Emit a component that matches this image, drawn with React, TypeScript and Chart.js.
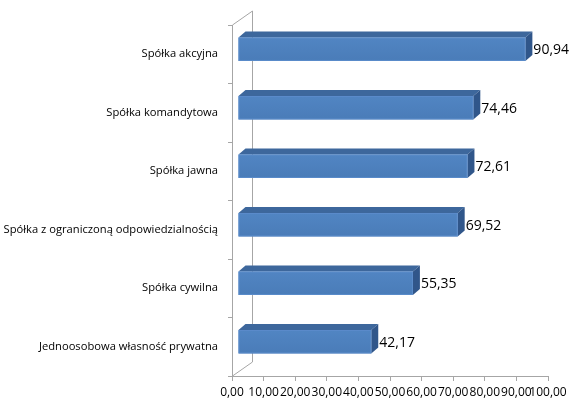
import React, { useEffect, useRef } from "react";
import { Chart, registerables } from "chart.js";

Chart.register(...registerables);

const categories = [
  "Spółka akcyjna",
  "Spółka komandytowa",
  "Spółka jawna",
  "Spółka z ograniczoną odpowiedzialnością",
  "Spółka cywilna",
  "Jednoosobowa własność prywatna",
];
const values = [90.94, 74.46, 72.61, 69.52, 55.35, 42.17];
const xTicks = [0, 10, 20, 30, 40, 50, 60, 70, 80, 90, 100];

const fmt = (v: number) => v.toFixed(2).replace(".", ",");

// depth of the 3D box and offsets of the bars inside it
const WALL_DX = 20;
const WALL_DY = -14;
const BAR_DX = 6;
const BAR_DY = -5;
const TOP_DX = 7;
const TOP_DY = -6;

const box3d = {
  id: "box3d",
  beforeDatasetsDraw(chart: any) {
    const { ctx, chartArea } = chart;
    const { left, top, bottom } = chartArea;
    ctx.save();
    ctx.strokeStyle = "#a6a6a6";
    ctx.lineWidth = 1;
    ctx.beginPath();
    ctx.moveTo(left + 0.5, top);
    ctx.lineTo(left + WALL_DX + 0.5, top + WALL_DY);
    ctx.lineTo(left + WALL_DX + 0.5, bottom + WALL_DY);
    ctx.lineTo(left + 0.5, bottom);
    ctx.stroke();
    ctx.restore();
  },
  afterDatasetsDraw(chart: any) {
    const { ctx } = chart;
    const meta = chart.getDatasetMeta(0);
    ctx.save();
    meta.data.forEach((bar: any, i: number) => {
      const x0 = bar.base + BAR_DX;
      const x1 = bar.x + BAR_DX;
      const yTop = bar.y - bar.height / 2 + BAR_DY;
      const yBot = bar.y + bar.height / 2 + BAR_DY;

      // top face
      ctx.fillStyle = "#3d679c";
      ctx.beginPath();
      ctx.moveTo(x0, yTop);
      ctx.lineTo(x0 + TOP_DX, yTop + TOP_DY);
      ctx.lineTo(x1 + TOP_DX, yTop + TOP_DY);
      ctx.lineTo(x1, yTop);
      ctx.closePath();
      ctx.fill();

      // side face
      ctx.fillStyle = "#30568a";
      ctx.beginPath();
      ctx.moveTo(x1, yTop);
      ctx.lineTo(x1 + TOP_DX, yTop + TOP_DY);
      ctx.lineTo(x1 + TOP_DX, yBot + TOP_DY);
      ctx.lineTo(x1, yBot);
      ctx.closePath();
      ctx.fill();

      // front face
      const grad = ctx.createLinearGradient(0, yTop, 0, yBot);
      grad.addColorStop(0, "#5185c3");
      grad.addColorStop(1, "#4a7cb8");
      ctx.fillStyle = grad;
      ctx.fillRect(x0, yTop, x1 - x0, yBot - yTop);
      ctx.strokeStyle = "#5b8ccb";
      ctx.lineWidth = 1;
      ctx.strokeRect(x0 + 0.5, yTop + 0.5, x1 - x0 - 1, yBot - yTop - 1);

      // value label
      ctx.fillStyle = "#000000";
      ctx.font = "14px 'Open Sans', sans-serif";
      ctx.textAlign = "left";
      ctx.textBaseline = "middle";
      ctx.fillText(fmt(values[i]), x1 + TOP_DX + 1, bar.y + BAR_DY + 1);
    });
    ctx.restore();
  },
};

const App: React.FC = () => {
  const canvasRef = useRef<HTMLCanvasElement>(null);
  const chartRef = useRef<Chart | null>(null);

  useEffect(() => {
    if (!canvasRef.current) return;
    if (chartRef.current) chartRef.current.destroy();

    chartRef.current = new Chart(canvasRef.current, {
      type: "bar",
      data: {
        labels: categories,
        datasets: [
          {
            data: values,
            backgroundColor: "rgba(0,0,0,0)",
            borderWidth: 0,
            barPercentage: 0.4,
            categoryPercentage: 1,
          },
        ],
      },
      options: {
        indexAxis: "y",
        responsive: false,
        animation: false,
        events: [],
        layout: { padding: { top: 25, right: 37, left: 0, bottom: 0 } },
        plugins: {
          legend: { display: false },
          tooltip: { enabled: false },
          title: { display: false },
        },
        scales: {
          x: {
            min: 0,
            max: 100,
            afterFit: (s: any) => {
              s.height = 34;
            },
            afterBuildTicks: (axis: any) => {
              axis.ticks = xTicks.map((v) => ({ value: v }));
            },
            ticks: {
              callback: (v: any) => fmt(Number(v)),
              color: "#000000",
              font: { family: "'Open Sans', sans-serif", size: 12 },
              padding: 4,
              maxRotation: 0,
              autoSkip: false,
            },
            grid: {
              drawOnChartArea: false,
              color: "#a6a6a6",
              tickLength: 5,
            },
            border: { color: "#a6a6a6" },
          },
          y: {
            afterFit: (s: any) => {
              s.width = 232;
            },
            ticks: {
              color: "#000000",
              font: { family: "'Open Sans', sans-serif", size: 11.2 },
              padding: 10,
            },
            grid: {
              drawOnChartArea: false,
              color: "#a6a6a6",
              tickLength: 4,
              offset: true,
            },
            border: { color: "#a6a6a6" },
          },
        },
      },
      plugins: [box3d],
    });

    return () => {
      if (chartRef.current) {
        chartRef.current.destroy();
        chartRef.current = null;
      }
    };
  }, []);

  return (
    <div style={{ position: "absolute", left: 0, top: 0, width: 585, height: 410, background: "#ffffff" }}>
      <canvas ref={canvasRef} width={585} height={410} style={{ width: 585, height: 410 }} />
    </div>
  );
};

export default App;
